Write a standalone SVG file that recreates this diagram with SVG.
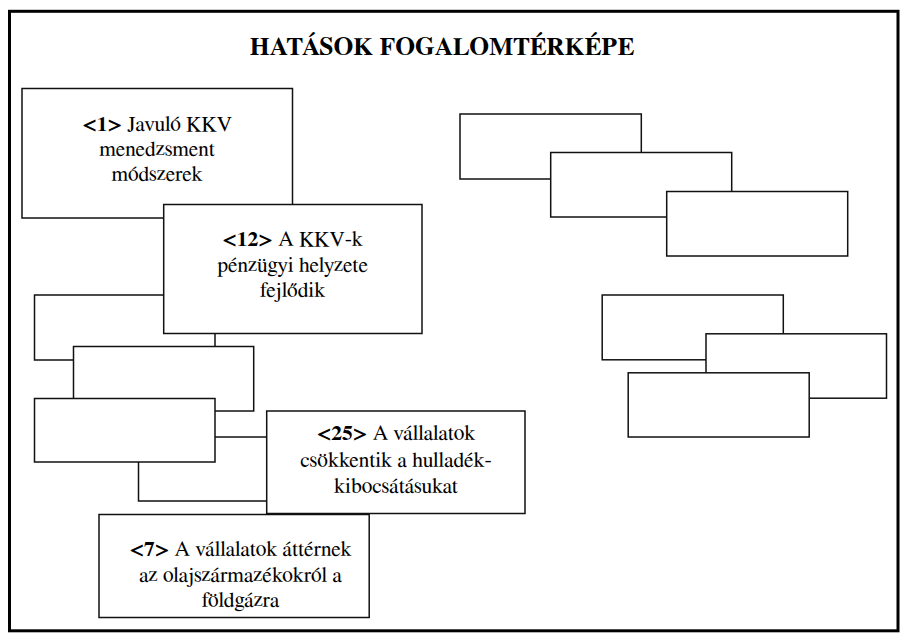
<svg xmlns="http://www.w3.org/2000/svg" width="900" height="633" viewBox="0 0 900 633">
<style>
.frame{fill:#fff;stroke:#000;stroke-width:3}
.box{fill:#fff;stroke:#111;stroke-width:1.5}
.con{fill:none;stroke:#111;stroke-width:1.5}
.t{font-family:FreeSerif,"Liberation Serif","DejaVu Serif",serif;font-size:21.5px;fill:#000;text-anchor:middle}
.b{font-weight:bold}
.title{font-family:FreeSerif,"Liberation Serif","DejaVu Serif",serif;font-size:25.5px;font-weight:bold;fill:#000;text-anchor:middle}
</style>
<rect class="frame" x="9.5" y="11.3" width="888.5" height="619.5"/>
<text class="title" x="442" y="55">HATÁSOK FOGALOMTÉRKÉPE</text>
<g id="connectors">
<polyline class="con" points="163.7,295 34.5,295 34.5,360 73.5,360"/>
<line class="con" x1="215" y1="333.5" x2="215" y2="346.5"/>
<line class="con" x1="215" y1="437" x2="266.7" y2="437"/>
<polyline class="con" points="138.5,462 138.5,501 266.7,501"/>
</g>
<g id="node1">
<rect class="box" x="22" y="88.5" width="270.5" height="129.5"/>
<text class="t" x="157" y="130.5"><tspan class="b">&lt;1&gt;</tspan> Javuló KKV</text>
<text class="t" x="157" y="156">menedzsment</text>
<text class="t" x="157" y="181">módszerek</text>
</g>
<g id="node12">
<rect class="box" x="163.7" y="204.5" width="258.3" height="129"/>
<text class="t" x="292.6" y="245.7"><tspan class="b">&lt;12&gt;</tspan> A KKV-k</text>
<text class="t" x="292.6" y="271.7">pénzügyi helyzete</text>
<text class="t" x="292.6" y="297.3">fejlődik</text>
</g>
<g id="nodeB">
<rect class="box" x="73.5" y="346.5" width="180.2" height="64.5"/>
</g>
<g id="nodeC">
<rect class="box" x="34.5" y="398.5" width="180.5" height="63.5"/>
</g>
<g id="node7">
<rect class="box" x="99" y="514.5" width="270.2" height="103"/>
<text class="t" x="240.5" y="555.5"><tspan class="b">&lt;7&gt;</tspan> A vállalatok áttérnek</text>
<text class="t" x="240.5" y="581.5">az olajszármazékokról a</text>
<text class="t" x="240.5" y="607">földgázra</text>
</g>
<g id="node25">
<rect class="box" x="266.7" y="411" width="258.3" height="102.5"/>
<text class="t" x="396" y="440"><tspan class="b">&lt;25&gt;</tspan> A vállalatok</text>
<text class="t" x="396" y="466.5">csökkentik a hulladék-</text>
<text class="t" x="396" y="492.5">kibocsátásukat</text>
</g>
<g id="r1"><rect class="box" x="460" y="114" width="181.3" height="65"/></g>
<g id="r2"><rect class="box" x="550.7" y="152.5" width="181" height="64.5"/></g>
<g id="r3"><rect class="box" x="666.7" y="191.5" width="181" height="64.5"/></g>
<g id="r4"><rect class="box" x="602.2" y="295" width="181.1" height="64.8"/></g>
<g id="r5"><rect class="box" x="706" y="333.8" width="180.5" height="64.4"/></g>
<g id="r6"><rect class="box" x="628.2" y="372.8" width="181" height="64.2"/></g>
</svg>
